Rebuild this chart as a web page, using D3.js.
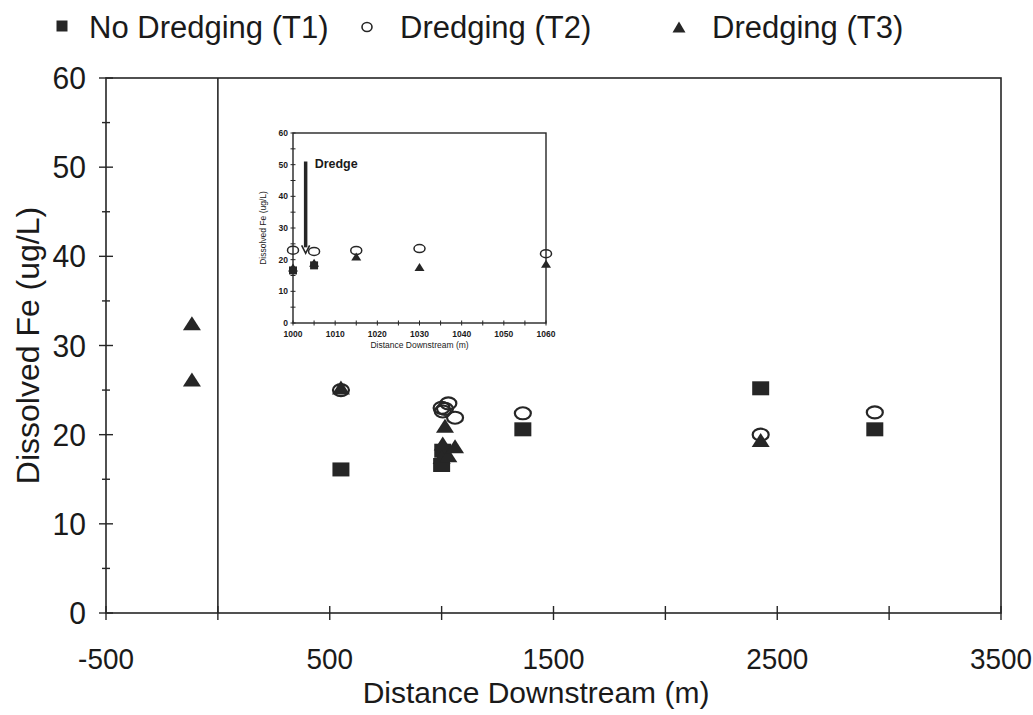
<!DOCTYPE html>
<html>
<head>
<meta charset="utf-8">
<script src="https://cdn.jsdelivr.net/npm/d3@7"></script>
<style>
  html, body { margin: 0; padding: 0; background: #fff; }
  svg { display: block; }
  text { font-family: "Liberation Sans", Arial, sans-serif; fill: #1a1a1a; }
</style>
</head>
<body>
<svg id="chart" width="1033" height="715"></svg>
<script>
// Dissolved iron vs. distance downstream, three treatments
const seriesNames = ["No Dredging (T1)", "Dredging (T2)", "Dredging (T3)"];

// [distance (m), dissolved Fe (ug/L)]
const noDredgingT1 = [[550, 16.1], [1000, 16.6], [1005, 18.2], [1363, 20.6], [2426, 25.2], [2936, 20.6]];
const dredgingT2 = [[550, 25.0], [1000, 23.0], [1005, 22.6], [1015, 22.9], [1030, 23.5], [1060, 21.9],
                    [1363, 22.4], [2426, 20.0], [2936, 22.5]];
const dredgingT3 = [[-116, 32.5], [-116, 26.2], [550, 25.3], [1000, 17.5], [1005, 19.0], [1015, 21.0],
                    [1030, 17.7], [1060, 18.7], [2426, 19.4]];

const xTickValues = [-500, 0, 500, 1000, 1500, 2000, 2500, 3000, 3500];
const xTickLabels = [-500, 500, 1500, 2500, 3500];
const yTickValues = [0, 5, 10, 15, 20, 25, 30, 35, 40, 45, 50, 55, 60];
const yTickLabels = [0, 10, 20, 30, 40, 50, 60];

const insetXTicks = [1000, 1005, 1010, 1015, 1020, 1025, 1030, 1035, 1040, 1045, 1050, 1055, 1060];
const insetXLabels = [1000, 1010, 1020, 1030, 1040, 1050, 1060];
const insetYTicks = [0, 5, 10, 15, 20, 25, 30, 35, 40, 45, 50, 55, 60];
const insetYLabels = [0, 10, 20, 30, 40, 50, 60];
const dredgeLocation = [1003, 51, 22]; // x, arrow top, arrow tip

const ink = "#262626";
const svg = d3.select("#chart");

// ---------- main panel ----------
const x = d3.scaleLinear().domain([-500, 3500]).range([106, 1001]);
const y = d3.scaleLinear().domain([0, 60]).range([613, 78]);

const frame = svg.append("g").attr("stroke", ink).attr("stroke-width", 1.6).attr("fill", "none");
frame.append("rect")
  .attr("x", x(-500)).attr("y", y(60))
  .attr("width", x(3500) - x(-500)).attr("height", y(0) - y(60));
frame.append("line")
  .attr("x1", x(0)).attr("x2", x(0)).attr("y1", y(0)).attr("y2", y(60));

// ticks that cross the axis lines
const ticks = svg.append("g").attr("stroke", ink).attr("stroke-width", 1.4);
ticks.selectAll("line.xt").data(xTickValues).join("line")
  .attr("x1", d => x(d)).attr("x2", d => x(d))
  .attr("y1", y(0) - 7).attr("y2", y(0) + 7);
ticks.selectAll("line.yt").data(yTickValues).join("line")
  .attr("y1", d => y(d)).attr("y2", d => y(d))
  .attr("x1", d => x(-500) - (d % 10 === 0 ? 7 : 4))
  .attr("x2", d => x(-500) + (d % 10 === 0 ? 7 : 4));

// tick labels are set in a slightly condensed face
svg.append("g").selectAll("text").data(xTickLabels).join("text")
  .attr("transform", d => `translate(${x(d)},669) scale(0.93,1)`)
  .attr("text-anchor", "middle").attr("font-size", 30)
  .text(d => d);
svg.append("g").selectAll("text").data(yTickLabels).join("text")
  .attr("transform", d => `translate(86,${y(d) + 11}) scale(0.97,1)`)
  .attr("text-anchor", "end").attr("font-size", 31)
  .text(d => d);

svg.append("text")
  .attr("x", 536).attr("y", 703)
  .attr("text-anchor", "middle").attr("font-size", 30)
  .text("Distance Downstream (m)");
svg.append("text")
  .attr("transform", `translate(39,${(y(0) + y(60)) / 2}) rotate(-90)`)
  .attr("text-anchor", "middle").attr("font-size", 32)
  .text("Dissolved Fe (ug/L)");

// marker shapes, centred on (0,0)
function squarePath(w, h) { return `M${-w/2},${-h/2}h${w}v${h}h${-w}Z`; }
function trianglePath(w, h) { return `M0,${-h/2}L${w/2},${h/2}L${-w/2},${h/2}Z`; }

function drawMarkers(g, sx, sy, data, kind, w, h, sw) {
  const sel = g.selectAll(null).data(data);
  if (kind === "circle") {
    sel.join("ellipse")
      .attr("cx", d => sx(d[0])).attr("cy", d => sy(d[1]))
      .attr("rx", w / 2).attr("ry", h / 2)
      .attr("fill", "none").attr("stroke", ink).attr("stroke-width", sw);
  } else {
    const p = kind === "square" ? squarePath(w, h) : trianglePath(w, h);
    sel.join("path")
      .attr("transform", d => `translate(${sx(d[0])},${sy(d[1])})`)
      .attr("d", p).attr("fill", ink);
  }
}

const marks = svg.append("g");
drawMarkers(marks, x, y, noDredgingT1, "square", 17, 14);
drawMarkers(marks, x, y, dredgingT2, "circle", 16, 12, 2.2);
drawMarkers(marks, x, y, dredgingT3, "triangle", 18, 14);

// ---------- legend ----------
const legend = svg.append("g");
legend.append("path").attr("transform", "translate(62,26)").attr("d", squarePath(11, 11)).attr("fill", ink);
legend.append("ellipse").attr("cx", 367).attr("cy", 27).attr("rx", 5).attr("ry", 4.5)
  .attr("fill", "none").attr("stroke", ink).attr("stroke-width", 1.6);
legend.append("path").attr("transform", "translate(679,27)").attr("d", trianglePath(13, 11)).attr("fill", ink);
const legendX = [89, 400, 712];
legend.selectAll("text").data(seriesNames).join("text")
  .attr("x", (d, i) => legendX[i]).attr("y", 38).attr("font-size", 31)
  .text(d => d);

// ---------- inset: the first 60 m below the dredge ----------
const ix = d3.scaleLinear().domain([1000, 1060]).range([293, 546]);
const iy = d3.scaleLinear().domain([0, 60]).range([323, 133]);
const inset = svg.append("g");

inset.append("rect")
  .attr("x", ix(1000)).attr("y", iy(60))
  .attr("width", ix(1060) - ix(1000)).attr("height", iy(0) - iy(60))
  .attr("fill", "#fff").attr("stroke", ink).attr("stroke-width", 1.4);

const iticks = inset.append("g").attr("stroke", ink).attr("stroke-width", 1);
iticks.selectAll("line.x").data(insetXTicks).join("line")
  .attr("x1", d => ix(d)).attr("x2", d => ix(d))
  .attr("y1", iy(0) - 2.5).attr("y2", iy(0) + 2.5);
iticks.selectAll("line.y").data(insetYTicks).join("line")
  .attr("y1", d => iy(d)).attr("y2", d => iy(d))
  .attr("x1", ix(1000) - 2.5).attr("x2", ix(1000) + 2.5);

inset.append("g").selectAll("text").data(insetXLabels).join("text")
  .attr("x", d => ix(d)).attr("y", iy(0) + 14)
  .attr("text-anchor", "middle").attr("font-size", 8.5).attr("font-weight", "bold")
  .text(d => d);
inset.append("g").selectAll("text").data(insetYLabels).join("text")
  .attr("x", ix(1000) - 5).attr("y", d => iy(d) + 3)
  .attr("text-anchor", "end").attr("font-size", 8.5).attr("font-weight", "bold")
  .text(d => d);
inset.append("text")
  .attr("x", (ix(1000) + ix(1060)) / 2).attr("y", iy(0) + 25)
  .attr("text-anchor", "middle").attr("font-size", 8.5)
  .text("Distance Downstream (m)");
inset.append("text")
  .attr("transform", `translate(266,${(iy(0) + iy(60)) / 2}) rotate(-90)`)
  .attr("text-anchor", "middle").attr("font-size", 8.5)
  .text("Dissolved Fe (ug/L)");

// dredge arrow
const [dx, dTop, dTip] = dredgeLocation;
inset.append("line")
  .attr("x1", ix(dx)).attr("x2", ix(dx))
  .attr("y1", iy(dTop)).attr("y2", iy(dTip) - 6)
  .attr("stroke", ink).attr("stroke-width", 3.5);
inset.append("path")
  .attr("d", `M${ix(dx) - 4},${iy(dTip) - 8}L${ix(dx)},${iy(dTip)}L${ix(dx) + 4},${iy(dTip) - 8}`)
  .attr("fill", "none").attr("stroke", ink).attr("stroke-width", 1.6);
inset.append("text")
  .attr("x", ix(dx) + 9).attr("y", iy(dTop) + 6)
  .attr("font-family", "'Liberation Serif', 'DejaVu Serif', serif")
  .attr("font-weight", "bold").attr("font-size", 12.5)
  .text("Dredge");

const inRange = d => d[0] >= 1000 && d[0] <= 1060;
const imarks = inset.append("g");
drawMarkers(imarks, ix, iy, noDredgingT1.filter(inRange), "square", 8, 8);
drawMarkers(imarks, ix, iy, dredgingT2.filter(inRange), "circle", 11, 8, 1.5);
drawMarkers(imarks, ix, iy, dredgingT3.filter(inRange), "triangle", 10, 8);
</script>
</body>
</html>
